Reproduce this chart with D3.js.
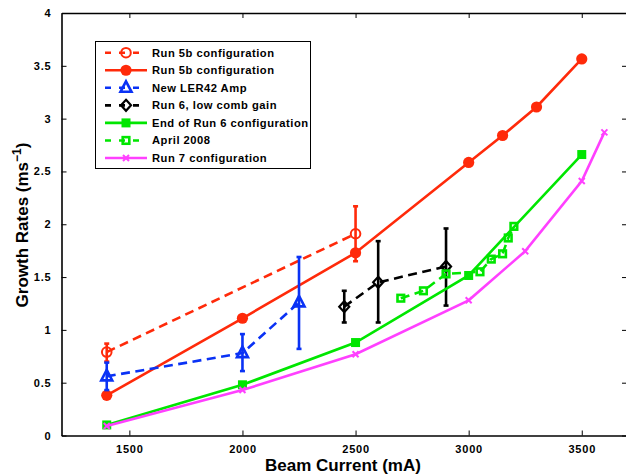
<!DOCTYPE html>
<html><head><meta charset="utf-8">
<script src="https://cdn.jsdelivr.net/npm/d3@7"></script>
<style>
html,body{margin:0;padding:0;background:#fff;}
svg{display:block;font-family:"Liberation Sans",Arial,Helvetica,sans-serif;font-weight:bold;}
</style></head>
<body>
<script>
// ---- data ----
const run5bDashX = [1400, 2500];
const run5bDashY = [0.79, 1.91];
const run5bDashLo = [0.70, 1.65];
const run5bDashHi = [0.87, 2.17];

const run5bX = [1400, 2000, 2500, 3000, 3150, 3300, 3500];
const run5bY = [0.38, 1.11, 1.73, 2.585, 2.84, 3.11, 3.565];

const ampX = [1400, 2000, 2250];
const ampY = [0.56, 0.78, 1.26];
const ampLo = [0.43, 0.61, 0.82];
const ampHi = [0.69, 0.96, 1.69];

const run6X = [2450, 2600, 2900];
const run6Y = [1.22, 1.45, 1.60];
const run6Lo = [1.07, 1.07, 1.23];
const run6Hi = [1.37, 1.84, 1.96];

const endRun6X = [1400, 2000, 2500, 3000, 3500];
const endRun6Y = [0.10, 0.48, 0.88, 1.515, 2.66];

const aprX = [2700, 2800, 2900, 3050, 3100, 3150, 3175, 3200];
const aprY = [1.30, 1.37, 1.53, 1.55, 1.67, 1.72, 1.87, 1.98];

const run7X = [1400, 2000, 2500, 3000, 3250, 3500, 3600];
const run7Y = [0.09, 0.43, 0.77, 1.28, 1.745, 2.41, 2.87];

const xTicks = [1500, 2000, 2500, 3000, 3500];
const yTicks = [0, 0.5, 1, 1.5, 2, 2.5, 3, 3.5, 4];
const yTickLabels = ["0", "0.5", "1", "1.5", "2", "2.5", "3", "3.5", "4"];

const legendLabels = ["Run 5b configuration", "Run 5b configuration", "New LER42 Amp",
  "Run 6, low comb gain", "End of Run 6 configuration", "April 2008", "Run 7 configuration"];

// ---- style ----
const RED = "#ff2a0a", BLUE = "#0a32f5", BLACK = "#000", GREEN = "#00e600", MAG = "#ff40ff";

const W = 626, H = 475;
const svg = d3.select("body").append("svg").attr("width", W).attr("height", H);

const x = d3.scaleLinear().domain([1200, 3700]).range([61.5, 627]);
const y = d3.scaleLinear().domain([0, 4]).range([435.5, 13]);

// axes box
const ax = svg.append("g");
ax.append("g").attr("transform", `translate(0,${y(0)})`)
  .call(d3.axisBottom(x).tickValues(xTicks).tickSizeInner(-5).tickSizeOuter(0).tickPadding(10).tickFormat(d3.format("d")));
ax.append("g").attr("transform", `translate(0,${y(4)})`)
  .call(d3.axisTop(x).tickValues(xTicks).tickSizeInner(-5).tickSizeOuter(0).tickFormat(""));
ax.append("g").attr("transform", `translate(${x(1200)},0)`)
  .call(d3.axisLeft(y).tickValues(yTicks).tickSizeInner(-5).tickSizeOuter(0).tickPadding(10).tickFormat((d, i) => yTickLabels[i]));
ax.append("g").attr("transform", `translate(${x(3700)},0)`)
  .call(d3.axisRight(y).tickValues(yTicks).tickSizeInner(-5).tickSizeOuter(0).tickFormat(""));
ax.selectAll(".domain").attr("stroke", "#000").attr("stroke-width", 1.6);
ax.selectAll(".tick line").attr("stroke", "#000").attr("stroke-width", 1);
ax.selectAll(".tick text").attr("font-size", 11).attr("font-weight", "bold")
  .attr("letter-spacing", 0.8)
  .attr("font-family", "Liberation Sans, Arial, sans-serif").attr("fill", "#000");

// axis labels
svg.append("text").attr("x", 343).attr("y", 471).attr("text-anchor", "middle")
  .attr("font-size", 17).text("Beam Current (mA)");
const yl = svg.append("text").attr("transform", "translate(28,225) rotate(-90)")
  .attr("text-anchor", "middle").attr("font-size", 17);
yl.append("tspan").text("Growth Rates (ms");
yl.append("tspan").attr("dy", -7).attr("font-size", 12).text("\u22121");
yl.append("tspan").attr("dy", 7).text(")");

const line = (xs, ys) => d3.line()(xs.map((v, i) => [x(v), y(ys[i])]));
const plot = svg.append("g");

function drawLine(xs, ys, color, dashed) {
  plot.append("path").attr("d", line(xs, ys)).attr("fill", "none").attr("stroke", color)
    .attr("stroke-width", 2.6).attr("stroke-dasharray", dashed ? "9,5.5" : null);
}
function drawErr(xs, lo, hi, color) {
  xs.forEach((v, i) => {
    const g = plot.append("g").attr("stroke", color).attr("stroke-width", 2.6);
    g.append("line").attr("x1", x(v)).attr("x2", x(v)).attr("y1", y(lo[i])).attr("y2", y(hi[i]));
    g.append("line").attr("x1", x(v) - 2.5).attr("x2", x(v) + 2.5).attr("y1", y(lo[i])).attr("y2", y(lo[i]));
    g.append("line").attr("x1", x(v) - 2.5).attr("x2", x(v) + 2.5).attr("y1", y(hi[i])).attr("y2", y(hi[i]));
  });
}
function marker(g, type, cx, cy, color) {
  if (type === "ocircle") g.append("circle").attr("cx", cx).attr("cy", cy).attr("r", 4.8).attr("fill", "none").attr("stroke", color).attr("stroke-width", 2);
  if (type === "fcircle") g.append("circle").attr("cx", cx).attr("cy", cy).attr("r", 5.6).attr("fill", color);
  if (type === "tri") g.append("path").attr("d", `M${cx},${cy - 6.5}L${cx + 5.5},${cy + 4}L${cx - 5.5},${cy + 4}Z`).attr("fill", "none").attr("stroke", color).attr("stroke-width", 2.6);
  if (type === "diamond") g.append("path").attr("d", `M${cx},${cy - 5.5}L${cx + 5},${cy}L${cx},${cy + 5.5}L${cx - 5},${cy}Z`).attr("fill", "none").attr("stroke", color).attr("stroke-width", 2.2);
  if (type === "fsquare") g.append("rect").attr("x", cx - 4.5).attr("y", cy - 4.5).attr("width", 9).attr("height", 9).attr("fill", color);
  if (type === "osquare") g.append("rect").attr("x", cx - 3.3).attr("y", cy - 3.3).attr("width", 6.6).attr("height", 6.6).attr("fill", "none").attr("stroke", color).attr("stroke-width", 2.6);
  if (type === "x") g.append("path").attr("d", `M${cx - 3},${cy - 3}L${cx + 3},${cy + 3}M${cx - 3},${cy + 3}L${cx + 3},${cy - 3}`).attr("stroke", color).attr("stroke-width", 2);
}
function drawMarkers(xs, ys, type, color) {
  xs.forEach((v, i) => marker(plot, type, x(v), y(ys[i]), color));
}

// series
drawLine(run5bDashX, run5bDashY, RED, true);
drawErr(run5bDashX, run5bDashLo, run5bDashHi, RED);
drawMarkers(run5bDashX, run5bDashY, "ocircle", RED);

drawLine(run5bX, run5bY, RED, false);
drawMarkers(run5bX, run5bY, "fcircle", RED);

drawLine(ampX, ampY, BLUE, true);
drawErr(ampX, ampLo, ampHi, BLUE);
drawMarkers(ampX, ampY, "tri", BLUE);

drawLine(run6X, run6Y, BLACK, true);
drawErr(run6X, run6Lo, run6Hi, BLACK);
drawMarkers(run6X, run6Y, "diamond", BLACK);

drawLine(endRun6X, endRun6Y, GREEN, false);
drawMarkers(endRun6X, endRun6Y, "fsquare", GREEN);

drawLine(aprX, aprY, GREEN, true);
drawMarkers(aprX, aprY, "osquare", GREEN);

drawLine(run7X, run7Y, MAG, false);
drawMarkers(run7X, run7Y, "x", MAG);

// legend
const legStyles = [
  {c: RED, d: true, m: "ocircle"}, {c: RED, d: false, m: "fcircle"}, {c: BLUE, d: true, m: "tri"},
  {c: BLACK, d: true, m: "diamond"}, {c: GREEN, d: false, m: "fsquare"}, {c: GREEN, d: true, m: "osquare"},
  {c: MAG, d: false, m: "x"}];
const leg = svg.append("g");
leg.append("rect").attr("x", 95.5).attr("y", 41.5).attr("width", 215).attr("height", 127)
  .attr("fill", "#fff").attr("stroke", "#000").attr("stroke-width", 1);
legendLabels.forEach((lab, i) => {
  const cy = 52.7 + i * 17.55;
  const st = legStyles[i];
  const g = leg.append("g");
  g.append("line").attr("x1", 105).attr("x2", 147).attr("y1", cy).attr("y2", cy)
    .attr("stroke", st.c).attr("stroke-width", 2.6).attr("stroke-dasharray", st.d ? "6,8" : null);
  marker(g, st.m, 126, cy, st.c);
  g.append("text").attr("x", 152).attr("y", cy + 4).attr("font-size", 11.2)
    .attr("letter-spacing", 0.5).text(lab);
});
</script>
</body></html>
